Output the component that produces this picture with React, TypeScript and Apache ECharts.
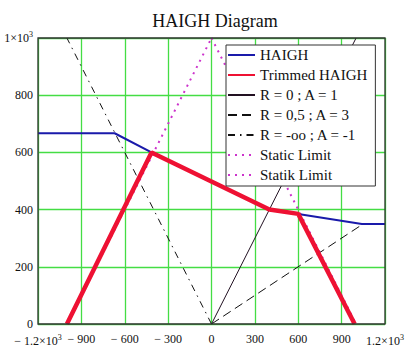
import React, { useEffect, useRef } from "react";
import * as echarts from "echarts";

const haighPts: [number, number][] = [
  [-1200, 667], [-670, 667], [-415, 600], [400, 400], [600, 385], [1040, 350], [1200, 350],
];
const trimmedPts: [number, number][] = [
  [-1000, 0], [-415, 600], [400, 400], [600, 385], [990, 0],
];
const r0Pts: [number, number][] = [[0, 0], [1000, 1000]];
const r05Pts: [number, number][] = [[0, 0], [1040, 347]];
const rInfPts: [number, number][] = [[0, 0], [-1000, 1000]];
const staticPts: [number, number][] = [[-1000, 0], [0, 1000]];
const statikPts: [number, number][] = [[0, 1000], [1000, 0]];

const seriesNames = [
  "HAIGH",
  "Trimmed HAIGH",
  "R = 0 ; A = 1",
  "R = 0,5 ; A = 3",
  "R = -oo ; A = -1",
  "Static Limit",
  "Statik Limit",
];

const FONT = "'Liberation Serif', 'Times New Roman', serif";
const GRID = { left: 38, top: 38, right: 22, bottom: 28 };

function fmtX(v: number): string {
  if (v === -1200) return "− 1.2×10{sup|3}";
  if (v === 1200) return "1.2×10{sup|3}";
  if (v < 0) return "− " + Math.abs(v);
  return String(v);
}
function fmtY(v: number): string {
  if (v === 1000) return "1×10{sup|3}";
  return String(v);
}

const richSup = {
  sup: { fontSize: 8, fontFamily: FONT, color: "#111", verticalAlign: "top" as const, padding: [0, 0, 7, 0] },
};

export default function App() {
  const ref = useRef<HTMLDivElement>(null);
  useEffect(() => {
    document.body.style.margin = "0";
    if (!ref.current) return;
    const chart = echarts.init(ref.current, undefined, { renderer: "svg" });
    const magenta = "#cc33cc";
    const mk = (name: string, data: [number, number][], lineStyle: any, z = 2) => ({
      name,
      type: "line",
      data,
      symbol: "none",
      lineStyle,
      itemStyle: { color: lineStyle.color },
      z,
      silent: true,
    });
    chart.setOption({
      animation: false,
      backgroundColor: "#ffffff",
      title: {
        text: "HAIGH Diagram",
        left: 210,
        textAlign: "center",
        top: 7,
        textStyle: { fontFamily: FONT, fontSize: 18, fontWeight: "normal", color: "#111" },
      },
      grid: { ...GRID },
      xAxis: {
        type: "value",
        min: -1200,
        max: 1200,
        interval: 300,
        axisLine: { show: false },
        axisTick: { show: false },
        axisLabel: {
          margin: 9,
          fontFamily: FONT,
          fontSize: 12,
          color: "#111",
          formatter: fmtX,
          rich: richSup,
        },
        splitLine: { show: true, lineStyle: { color: "#44dd44", width: 1.3 } },
      },
      yAxis: {
        type: "value",
        min: 0,
        max: 1000,
        interval: 200,
        axisLine: { show: false },
        axisTick: { show: false },
        axisLabel: {
          margin: 5,
          fontFamily: FONT,
          fontSize: 12,
          color: "#111",
          formatter: fmtY,
          rich: richSup,
        },
        splitLine: { show: true, lineStyle: { color: "#44dd44", width: 1.3 } },
      },
      legend: {
        orient: "vertical",
        left: 226,
        top: 45,
        data: seriesNames,
        backgroundColor: "#ffffff",
        borderColor: "#333",
        borderWidth: 1,
        borderRadius: 0,
        padding: [2, 8, 3, 1],
        itemGap: 4,
        itemWidth: 27,
        itemHeight: 16,
        itemStyle: { opacity: 0 },
        textStyle: { fontFamily: FONT, fontSize: 15, color: "#111", lineHeight: 16 },
        z: 10,
      },
      graphic: [
        {
          type: "rect",
          shape: { x: GRID.left, y: GRID.top, width: 407 - GRID.left - GRID.right, height: 352 - GRID.top - GRID.bottom },
          style: { fill: "none", stroke: "#333", lineWidth: 1.3 },
          z: 5,
          silent: true,
        },
      ],
      series: [
        mk(seriesNames[5], staticPts, { color: magenta, width: 2, type: [2, 5] }, 2),
        mk(seriesNames[6], statikPts, { color: magenta, width: 2, type: [2, 5] }, 2),
        mk(seriesNames[2], r0Pts, { color: "#221122", width: 1 }, 2),
        mk(seriesNames[3], r05Pts, { color: "#111", width: 1, type: [9, 5] }, 2),
        mk(seriesNames[4], rInfPts, { color: "#111", width: 1, type: [7, 5, 1.5, 5] }, 2),
        mk(seriesNames[0], haighPts, { color: "#1a1aaa", width: 2 }, 3),
        mk(seriesNames[1], trimmedPts, { color: "#ee1133", width: 4.5 }, 4),
      ],
    });
    return () => chart.dispose();
  }, []);
  return <div ref={ref} style={{ width: 407, height: 352 }} />;
}
